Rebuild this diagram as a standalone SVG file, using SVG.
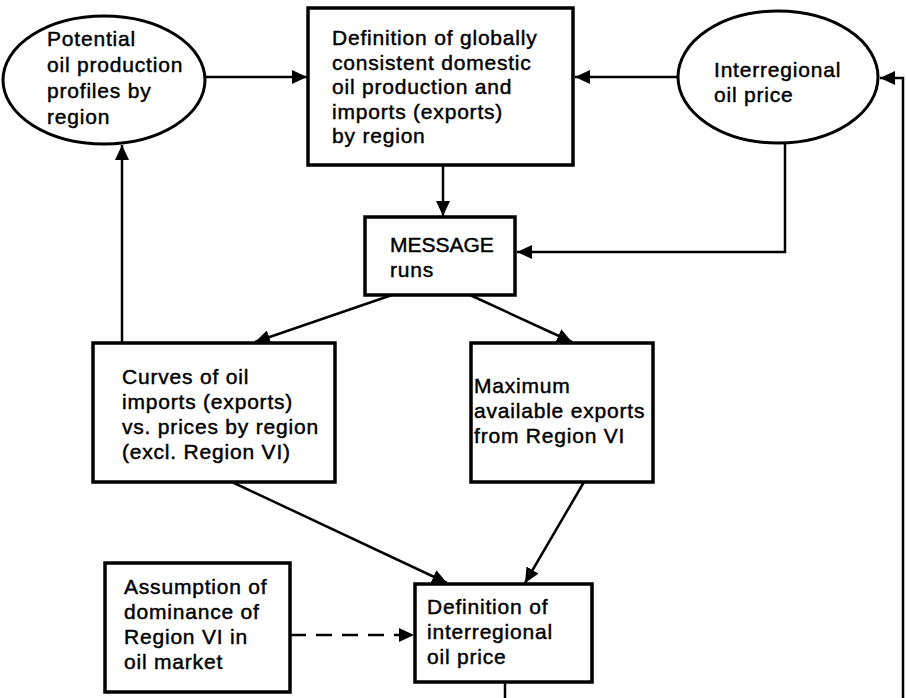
<svg xmlns="http://www.w3.org/2000/svg" width="906" height="698" viewBox="0 0 906 698">
<defs>
<marker id="ah" markerWidth="16" markerHeight="14" refX="15" refY="7" orient="auto" markerUnits="userSpaceOnUse">
<path d="M0,0 L15,7 L0,14 Z" fill="#000"/>
</marker>
<style>
.box{fill:#fff;stroke:#000;stroke-width:3.5}
.ell{fill:#fff;stroke:#000;stroke-width:3}
.ln{fill:none;stroke:#000;stroke-width:2.5}
.dash{stroke-dasharray:16 10}
text{font-family:"Liberation Sans",Arial,sans-serif;font-size:21px;letter-spacing:0.8px;fill:#000;stroke:#000;stroke-width:0.45}
.msg{letter-spacing:0}
</style>
</defs>
<rect width="906" height="698" fill="#fff"/>
<g id="connectors">
<line class="ln" x1="205" y1="77" x2="307" y2="77" marker-end="url(#ah)"/>
<line class="ln" x1="678" y1="77" x2="575" y2="77" marker-end="url(#ah)"/>
<line class="ln" x1="443" y1="165" x2="443" y2="216" marker-end="url(#ah)"/>
<polyline class="ln" points="785,143 785,252 517,252" marker-end="url(#ah)"/>
<polyline class="ln" points="903,698 903,78 880,78" marker-end="url(#ah)"/>
<line class="ln" x1="122" y1="343" x2="122" y2="145" marker-end="url(#ah)"/>
<line class="ln" x1="392" y1="295" x2="255" y2="342" marker-end="url(#ah)"/>
<line class="ln" x1="470" y1="295" x2="572" y2="342" marker-end="url(#ah)"/>
<line class="ln" x1="232" y1="482" x2="447" y2="583" marker-end="url(#ah)"/>
<line class="ln" x1="584" y1="482" x2="525" y2="583" marker-end="url(#ah)"/>
<line class="ln dash" x1="290" y1="635" x2="414" y2="635" marker-end="url(#ah)"/>
<line class="ln" x1="505" y1="682" x2="505" y2="698"/>
</g>
<g id="n_potential">
<ellipse class="ell" cx="104" cy="80" rx="101" ry="64"/>
<text x="47" y="46">Potential</text>
<text x="47" y="72">oil production</text>
<text x="47" y="98">profiles by</text>
<text x="47" y="124">region</text>
</g>
<g id="n_definition_global">
<rect class="box" x="308" y="8" width="265" height="157"/>
<text x="332" y="45">Definition of globally</text>
<text x="332" y="69.5">consistent domestic</text>
<text x="332" y="94">oil production and</text>
<text x="332" y="118.5">imports (exports)</text>
<text x="332" y="143">by region</text>
</g>
<g id="n_interregional">
<ellipse class="ell" cx="778" cy="77" rx="100" ry="66"/>
<text x="714" y="77">Interregional</text>
<text x="714" y="102">oil price</text>
</g>
<g id="n_message">
<rect class="box" x="365" y="217" width="150" height="78"/>
<text class="msg" x="390" y="252">MESSAGE</text>
<text x="390" y="277">runs</text>
</g>
<g id="n_curves">
<rect class="box" x="93" y="343" width="242" height="139"/>
<text x="122" y="384">Curves of oil</text>
<text x="122" y="409">imports (exports)</text>
<text x="122" y="434">vs. prices by region</text>
<text x="122" y="459">(excl. Region VI)</text>
</g>
<g id="n_maximum">
<rect class="box" x="471" y="343" width="182" height="139"/>
<text x="474" y="393">Maximum</text>
<text x="474" y="418">available exports</text>
<text x="474" y="443">from Region VI</text>
</g>
<g id="n_assumption">
<rect class="box" x="105" y="563" width="185" height="129"/>
<text x="124" y="594">Assumption of</text>
<text x="124" y="619">dominance of</text>
<text x="124" y="644">Region VI in</text>
<text x="124" y="669">oil market</text>
</g>
<g id="n_definition_price">
<rect class="box" x="415" y="584" width="177" height="98"/>
<text x="427" y="614">Definition of</text>
<text x="427" y="639">interregional</text>
<text x="427" y="664">oil price</text>
</g>
</svg>
